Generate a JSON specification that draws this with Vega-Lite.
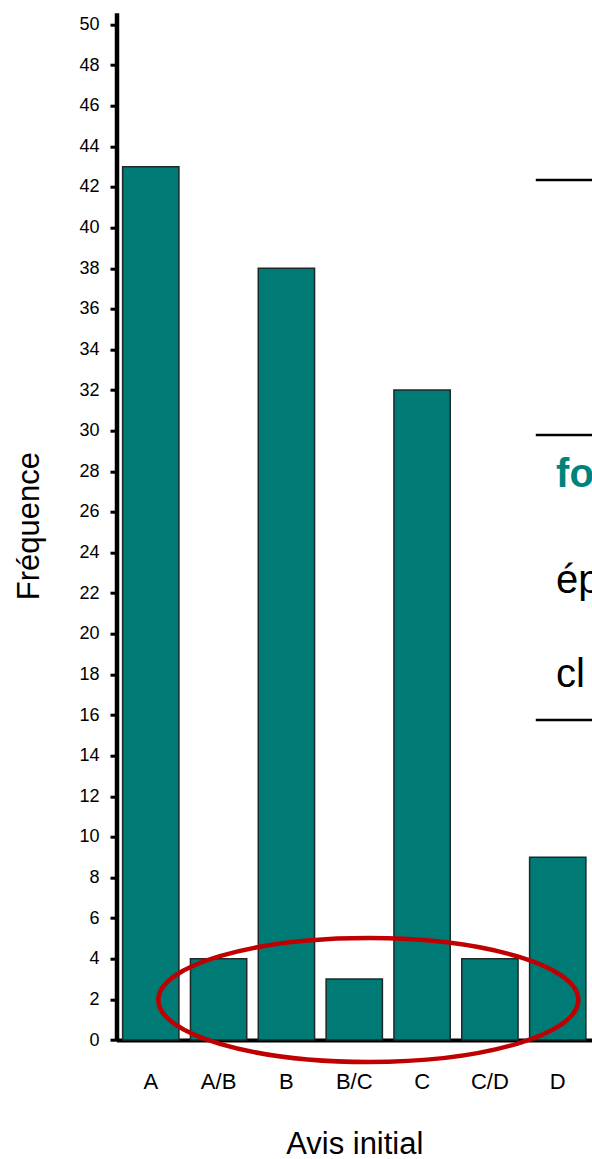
{
  "$schema": "https://vega.github.io/schema/vega-lite/v6.json",
  "autosize": "none",
  "width": 475.5,
  "height": 1027.3,
  "padding": {"left": 116.5, "top": 12.7, "right": 0, "bottom": 119},
  "background": "white",
  "datasets": {
    "bars": [
      {"cat": "A", "freq": 43},
      {"cat": "A/B", "freq": 4},
      {"cat": "B", "freq": 38},
      {"cat": "B/C", "freq": 3},
      {"cat": "C", "freq": 32},
      {"cat": "C/D", "freq": 4},
      {"cat": "D", "freq": 9}
    ],
    "rules": [
      {"cat": "D", "level": 42.34},
      {"cat": "D", "level": 29.79},
      {"cat": "D", "level": 15.76}
    ],
    "notes": [
      {"cat": "D", "level": 27.23, "text": "fo", "kind": "heading"},
      {"cat": "D", "level": 22.01, "text": "ép", "kind": "body"},
      {"cat": "D", "level": 17.38, "text": "cl", "kind": "body"}
    ],
    "highlight": [
      {"cat": "B/C", "level": 1.97}
    ]
  },
  "config": {
    "view": {"stroke": null},
    "font": "Liberation Sans",
    "axis": {"grid": false, "domainColor": "black", "tickColor": "black", "labelColor": "black", "titleColor": "black", "titleFontWeight": "normal", "labelFont": "Liberation Sans", "titleFont": "Liberation Sans"}
  },
  "layer": [
    {
      "data": {"name": "bars"},
      "mark": {"type": "bar", "fill": "#007A75", "stroke": "#1c2a2a", "strokeWidth": 1.5},
      "encoding": {
        "x": {
          "field": "cat", "type": "nominal", "sort": null,
          "scale": {"domain": ["A", "A/B", "B", "B/C", "C", "C/D", "D"], "paddingInner": 0.17, "paddingOuter": 0.09},
          "axis": {
            "title": "Avis initial", "titleFontSize": 31, "titleBaseline": "alphabetic", "titleY": 113,
            "labelAngle": 0, "labelFontSize": 22, "labelBaseline": "top", "labelPadding": 31,
            "ticks": false, "domainWidth": 4, "labelFlush": false
          }
        },
        "y": {
          "field": "freq", "type": "quantitative",
          "scale": {"domain": [0, 50.58], "nice": false, "zero": true},
          "axis": {
            "title": "Fréquence", "titleFontSize": 31, "titleAngle": -90, "titleBaseline": "alphabetic", "titleAlign": "center",
            "titleX": -78.5, "titleY": 513,
            "values": [0,2,4,6,8,10,12,14,16,18,20,22,24,26,28,30,32,34,36,38,40,42,44,46,48,50],
            "labelFontSize": 18, "labelPadding": 11, "tickSize": 6.5, "tickWidth": 3, "domainWidth": 4.5, "labelFlush": false
          }
        }
      }
    },
    {
      "data": {"name": "rules"},
      "mark": {"type": "rule", "color": "black", "strokeWidth": 2.5},
      "encoding": {
        "x": {"field": "cat", "type": "nominal", "bandPosition": 0.11},
        "x2": {"field": "cat", "bandPosition": 1.3},
        "y": {"field": "level", "type": "quantitative"}
      }
    },
    {
      "data": {"name": "notes"},
      "transform": [{"filter": "datum.kind === 'heading'"}],
      "mark": {"type": "text", "align": "left", "baseline": "alphabetic", "fontSize": 40, "fontWeight": "bold", "color": "#00837C", "font": "Liberation Sans"},
      "encoding": {
        "x": {"field": "cat", "type": "nominal", "bandPosition": 0.47},
        "y": {"field": "level", "type": "quantitative"},
        "text": {"field": "text"}
      }
    },
    {
      "data": {"name": "notes"},
      "transform": [{"filter": "datum.kind === 'body'"}],
      "mark": {"type": "text", "align": "left", "baseline": "alphabetic", "fontSize": 40, "color": "black", "font": "Liberation Sans"},
      "encoding": {
        "x": {"field": "cat", "type": "nominal", "bandPosition": 0.47},
        "y": {"field": "level", "type": "quantitative"},
        "text": {"field": "text"}
      }
    },
    {
      "data": {"name": "highlight"},
      "mark": {
        "type": "point", "filled": false, "opacity": 1, "stroke": "#C00000", "strokeWidth": 4.5, "size": 176400,
        "shape": "M -1 0 C -1 -0.163 -0.552 -0.295 0 -0.295 C 0.552 -0.295 1 -0.163 1 0 C 1 0.163 0.552 0.295 0 0.295 C -0.552 0.295 -1 0.163 -1 0 Z"
      },
      "encoding": {
        "x": {"field": "cat", "type": "nominal", "bandPosition": 0.75},
        "y": {"field": "level", "type": "quantitative"}
      }
    }
  ]
}
